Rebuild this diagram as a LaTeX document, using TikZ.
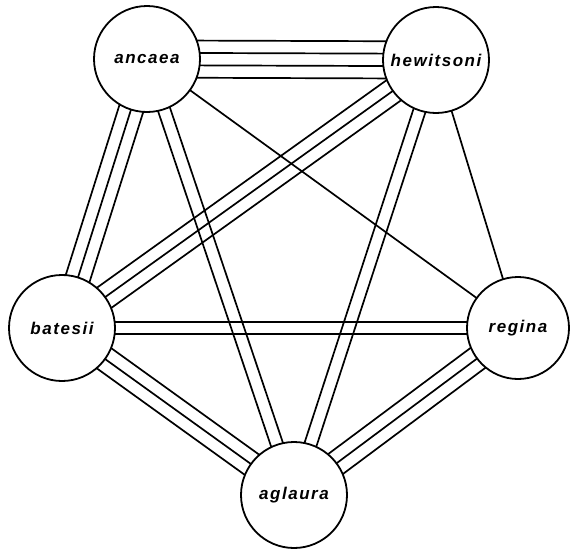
\documentclass[tikz,border=0pt]{standalone}
\usepackage{fontspec}
\setmainfont{Liberation Sans}
\newfontfamily\labelfont[LetterSpace=9]{Liberation Sans Bold Italic}
\usetikzlibrary{calc,backgrounds}
\tikzset{
  species/.style={circle, draw, line width=1.8pt, fill=white, minimum size=106pt, inner sep=0pt,
    font=\labelfont\fontsize{17}{19}\selectfont},
  edge/.style={line width=1.7pt},
}
\newcommand{\medge}[3]{%
  \foreach \i in {1,...,#3}{%
    \pgfmathsetmacro\off{(\i-(#3+1)/2)*12.4}%
    \draw[edge] ($(#1.center)!\off pt!90:(#2.center)$) -- ($(#2.center)!\off pt!-90:(#1.center)$);
  }}
\begin{document}
\begin{tikzpicture}[x=1pt,y=-1pt]
\useasboundingbox (0,0) rectangle (570,552);
\node[species] (anc) at (147,59) {ancaea};
\node[species] (hew) at (436,60) {hewitsoni};
\node[species] (bat) at (62,328) {batesii};
\node[species, minimum size=102pt] (reg) at (518,328) {regina};
\node[species] (agl) at (294,495) {aglaura};
\begin{scope}[on background layer]
\fill[white] (0,0) rectangle (570,552);
\medge{anc}{hew}{4}
\medge{anc}{bat}{3}
\medge{anc}{agl}{2}
\medge{anc}{reg}{1}
\medge{hew}{bat}{3}
\medge{hew}{agl}{2}
\medge{hew}{reg}{1}
\medge{bat}{reg}{2}
\medge{bat}{agl}{3}
\medge{reg}{agl}{3}
\end{scope}
\end{tikzpicture}
\end{document}
